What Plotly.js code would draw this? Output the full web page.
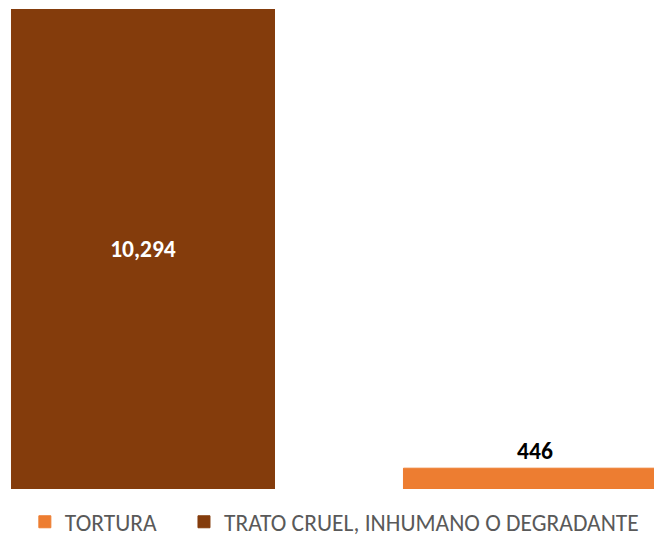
<!DOCTYPE html>
<html>
<head>
<meta charset="utf-8">
<script src="https://cdn.plot.ly/plotly-3.0.1.min.js"></script>
<style>html,body{margin:0;padding:0;background:#fff;}#chart{width:654px;height:544px;}</style>
</head>
<body>
<div id="chart"></div>
<script>
// Data
const categories = ["TRATO CRUEL, INHUMANO O DEGRADANTE", "TORTURA"];
const seriesNames = ["TORTURA", "TRATO CRUEL, INHUMANO O DEGRADANTE"];
const torturaValues = [446];
const tratoValues = [10294];
const colors = {tortura: "#ED7D31", trato: "#843C0C"};

const FONT = "Carlito, Calibri, Lato, 'Liberation Sans', sans-serif";

const traces = [
  {
    type: "bar",
    name: seriesNames[0],
    legend: "legend",
    x: [categories[1]],
    y: torturaValues,
    width: 0.671,
    marker: {color: colors.tortura, line: {color: colors.tortura, width: 1}},
    text: torturaValues.map(v => v.toLocaleString("en-US")),
    textposition: "outside",
    cliponaxis: false,
    textfont: {family: FONT, size: 23.5, color: "#000000", weight: "bold"},
    hoverinfo: "none"
  },
  {
    type: "bar",
    name: seriesNames[1],
    legend: "legend2",
    x: [categories[0]],
    y: tratoValues,
    width: 0.671,
    marker: {color: colors.trato, line: {color: colors.trato, width: 1}},
    text: tratoValues.map(v => v.toLocaleString("en-US")),
    textposition: "inside",
    insidetextanchor: "middle",
    textfont: {family: FONT, size: 23.5, color: "#FFFFFF", weight: "bold"},
    hoverinfo: "none"
  }
];

const legendBase = {
  orientation: "h",
  xref: "container", yref: "container",
  xanchor: "left",
  y: -0.012, yanchor: "bottom",
  font: {family: FONT, size: 23.5, color: "#595959"},
  bgcolor: "rgba(0,0,0,0)"
};

const layout = {
  width: 654,
  height: 544,
  margin: {l: 0, r: 0, t: 9, b: 55},
  paper_bgcolor: "#ffffff",
  plot_bgcolor: "#ffffff",
  barmode: "overlay",
  showlegend: true,
  font: {family: FONT, size: 23.5, color: "#595959"},
  xaxis: {
    type: "category",
    categoryorder: "array",
    categoryarray: categories,
    range: [-0.3648, 1.3036],
    showticklabels: false, showgrid: false, zeroline: false, showline: false, ticks: ""
  },
  yaxis: {
    range: [0, 10294],
    showticklabels: false, showgrid: false, zeroline: false, showline: false, ticks: ""
  },
  legend: Object.assign({}, legendBase, {x: 0.038}),
  legend2: Object.assign({}, legendBase, {x: 0.2813})
};

Plotly.newPlot("chart", traces, layout, {staticPlot: true, displayModeBar: false});
</script>
</body>
</html>
